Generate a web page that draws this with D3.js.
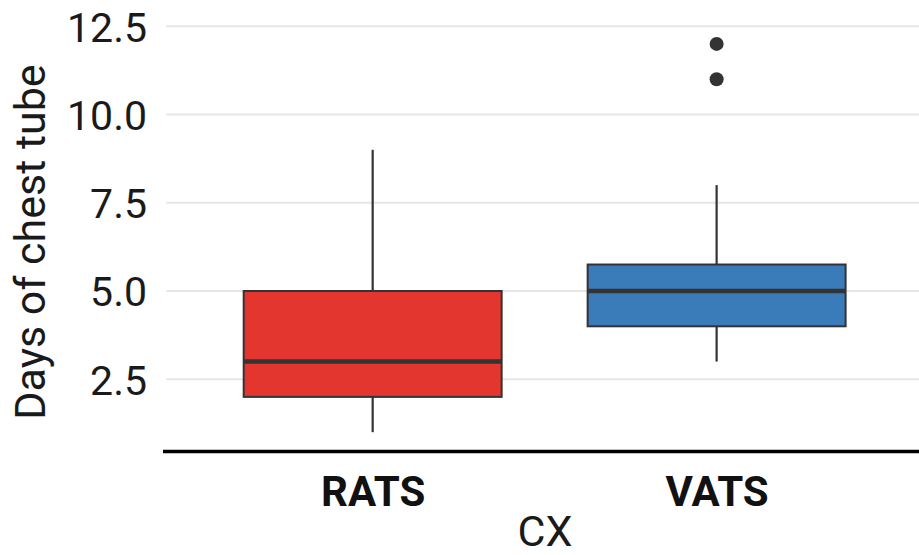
<!DOCTYPE html>
<html>
<head>
<meta charset="utf-8">
<script src="https://cdn.jsdelivr.net/npm/d3@7/dist/d3.min.js"></script>
<style>
  html, body { margin: 0; padding: 0; background: #fff; }
  svg { display: block; font-family: Roboto, "Noto Sans", sans-serif; }
</style>
</head>
<body>
<svg id="chart" width="919" height="555"></svg>
<script>
// ---- data ----
const categories = ["RATS", "VATS"];
const whiskerLow = [1, 3];
const q1 = [2, 4];
const medians = [3, 5];
const q3 = [5, 5.75];
const whiskerHigh = [9, 8];
const outliers = [[], [11, 12]];
const fillColors = ["#E3362F", "#3A7BB9"];
const yTicks = [2.5, 5.0, 7.5, 10.0, 12.5];
const yTitle = "Days of chest tube";
const xTitle = "CX";

// ---- layout ----
const W = 919, H = 555;
const panel = { left: 166.3, right: 923, top: 24.5, bottom: 451.6 };

const svg = d3.select("#chart");

const y = d3.scaleLinear().domain([0.45, 12.55]).range([panel.bottom, panel.top]);
// ggplot discrete: centers at 1..n, expand 0.6 each side, box width 0.75
const unit = (panel.right - panel.left) / (categories.length - 1 + 1.2);
const xc = d3.scalePoint().domain(categories)
  .range([panel.left + 0.6 * unit, panel.right - 0.6 * unit]);
const boxW = 0.75 * unit;

// gridlines
svg.append("g").selectAll("line").data(yTicks).join("line")
  .attr("x1", panel.left).attr("x2", panel.right)
  .attr("y1", d => y(d)).attr("y2", d => y(d))
  .attr("stroke", "#E6E6E6").attr("stroke-width", 2);

// y axis labels
const yAxis = d3.axisLeft(y).tickValues(yTicks).tickFormat(d3.format(".1f")).tickSize(0).tickPadding(0);
const gy = svg.append("g").attr("transform", `translate(147,0)`).call(yAxis);
gy.select(".domain").remove();
gy.selectAll("text").attr("font-size", 41).attr("fill", "#1a1a1a")
  .attr("font-family", "Roboto").attr("dy", "0.36em");

// boxes
const data = categories.map((c, i) => ({
  c, lo: whiskerLow[i], q1: q1[i], med: medians[i], q3: q3[i], hi: whiskerHigh[i],
  out: outliers[i], fill: fillColors[i]
}));

const g = svg.append("g");
const bx = g.selectAll("g.box").data(data).join("g").attr("class", "box");
bx.append("line")
  .attr("x1", d => xc(d.c)).attr("x2", d => xc(d.c))
  .attr("y1", d => y(d.q3)).attr("y2", d => y(d.hi))
  .attr("stroke", "#333").attr("stroke-width", 2.2);
bx.append("line")
  .attr("x1", d => xc(d.c)).attr("x2", d => xc(d.c))
  .attr("y1", d => y(d.q1)).attr("y2", d => y(d.lo))
  .attr("stroke", "#333").attr("stroke-width", 2.2);
bx.append("rect")
  .attr("x", d => xc(d.c) - boxW / 2).attr("width", boxW)
  .attr("y", d => y(d.q3)).attr("height", d => y(d.q1) - y(d.q3))
  .attr("fill", d => d.fill).attr("stroke", "#333").attr("stroke-width", 2);
bx.append("line")
  .attr("x1", d => xc(d.c) - boxW / 2).attr("x2", d => xc(d.c) + boxW / 2)
  .attr("y1", d => y(d.med)).attr("y2", d => y(d.med))
  .attr("stroke", "#333").attr("stroke-width", 4.5);
bx.selectAll("circle").data(d => d.out.map(v => ({ c: d.c, v }))).join("circle")
  .attr("cx", d => xc(d.c)).attr("cy", d => y(d.v)).attr("r", 7)
  .attr("fill", "#333");

// x axis
const xAxis = d3.axisBottom(xc).tickSize(0).tickPadding(0);
const gx = svg.append("g").attr("transform", `translate(0,${panel.bottom})`).call(xAxis);
gx.select(".domain").remove();
gx.selectAll("text").attr("font-size", 42).attr("font-weight", "bold")
  .attr("fill", "#111").attr("font-family", "Roboto").attr("dy", 0).attr("y", 54);
svg.append("line")
  .attr("x1", 163).attr("x2", W)
  .attr("y1", panel.bottom).attr("y2", panel.bottom)
  .attr("stroke", "#000").attr("stroke-width", 3.5);

// titles
svg.append("text").attr("x", 545).attr("y", 546)
  .attr("text-anchor", "middle").attr("font-size", 43).attr("fill", "#1a1a1a")
  .text(xTitle);
svg.append("text").attr("transform", `translate(45,242) rotate(-90)`)
  .attr("text-anchor", "middle").attr("font-size", 43).attr("fill", "#1a1a1a")
  .text(yTitle);
</script>
</body>
</html>
